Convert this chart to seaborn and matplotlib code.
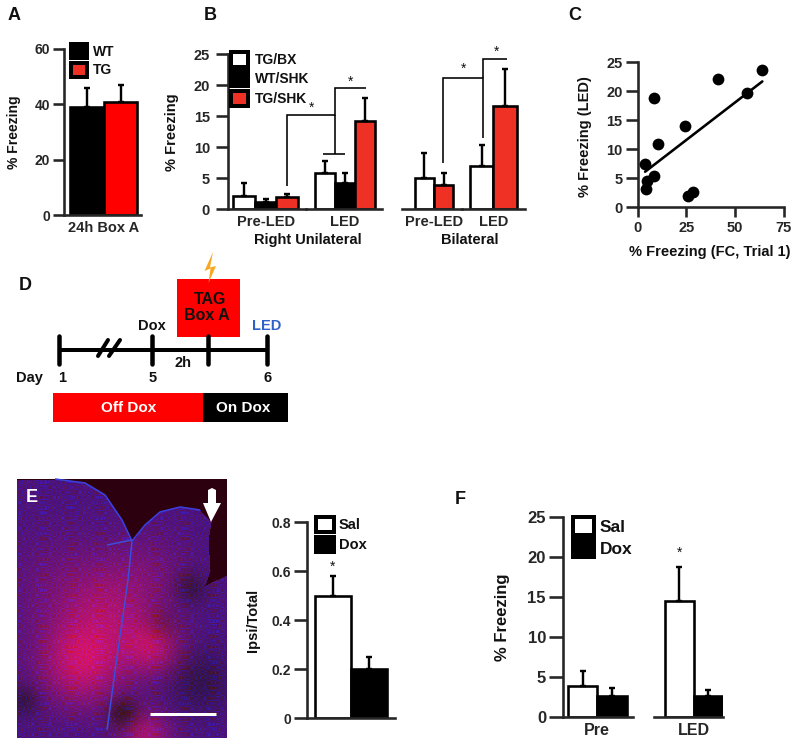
import numpy as np
import pandas as pd
import seaborn as sns
import matplotlib
matplotlib.use("Agg")
import matplotlib.pyplot as plt
from matplotlib.patches import Patch, Rectangle, Polygon
from matplotlib.path import Path

# ---------- data ----------
a_groups = ["WT", "TG"]
a_values = [39, 41]
a_tops = [45.8, 47]

b_groups = ["TG/BX", "WT/SHK", "TG/SHK"]
b_pre_values = [2.2, 1.1, 1.9]
b_pre_tops = [4.2, 1.7, 2.5]
b_led_values = [5.9, 4.3, 14.2]
b_led_tops = [7.7, 5.8, 17.9]

bi_groups = ["TG/BX", "TG/SHK"]
bi_pre_values = [5.1, 3.9]
bi_pre_tops = [9.1, 5.8]
bi_led_values = [7.0, 16.7]
bi_led_tops = [10.3, 22.6]

c_fc = [63.9, 41.3, 56.0, 8.4, 24.3, 10.25, 3.8, 8.4, 4.8, 4.1, 28.5, 26.0]
c_led = [23.6, 22.0, 19.6, 18.75, 14.05, 10.9, 7.5, 5.3, 4.5, 3.15, 2.7, 1.95]

e_groups = ["Sal", "Dox"]
e_values = [0.5, 0.2]
e_tops = [0.58, 0.25]

f_pre_values = [3.9, 2.6]
f_pre_tops = [5.7, 3.6]
f_led_values = [14.5, 2.6]
f_led_tops = [18.7, 3.4]

RED = "#ee3124"
PURE = "#ff0000"
INK = "#111111"
PX = 0.72  # points per pixel at dpi 100
W, H = 800, 746

sns.set_theme(style="ticks")
plt.rcParams["font.family"] = ["Liberation Sans", "DejaVu Sans"]
plt.rcParams["font.weight"] = "bold"
plt.rcParams["axes.labelweight"] = "bold"
plt.rcParams["text.color"] = INK
plt.rcParams["axes.labelcolor"] = INK

fig = plt.figure(figsize=(W / 100, H / 100), dpi=100, facecolor="white")
ov = fig.add_axes([0, 0, 1, 1], zorder=20)
ov.set_xlim(0, W)
ov.set_ylim(H, 0)
ov.axis("off")
ov.patch.set_alpha(0)


def add_ax(x0, x1, ytop, ybot):
    ax = fig.add_axes([x0 / W, 1 - ybot / H, (x1 - x0) / W, (ybot - ytop) / H])
    ax.patch.set_alpha(0)
    return ax


def style_ax(ax, ymax, yticks=None, ticklabels=None, fs=9.5, tick_px=10, pad_px=4):
    ax.set_ylim(0, ymax)
    for s in ("top", "right"):
        ax.spines[s].set_visible(False)
    ax.spines["bottom"].set_linewidth(2.6 * PX)
    ax.spines["left"].set_linewidth(2.6 * PX)
    if yticks is None:
        ax.spines["left"].set_visible(False)
        ax.set_yticks([])
    else:
        ax.set_yticks(yticks)
        ax.set_yticklabels(ticklabels or [str(t) for t in yticks], fontsize=fs, fontweight="bold")
        ax.tick_params(axis="y", length=tick_px * PX, width=2.6 * PX, pad=pad_px * PX)


def bar_group(x0, x1, ytop, ybot, ymax, names, values, tops, colors, c0, step,
              label=None, label_fs=10.5, **kw):
    ax = add_ax(x0, x1, ytop, ybot)
    df = pd.DataFrame({"group": names, "value": values})
    sns.barplot(data=df, x="group", y="value", hue="group", palette=colors, dodge=False,
                legend=False, width=1.0, edgecolor="black", linewidth=2.6 * PX, ax=ax,
                errorbar=None, saturation=1)
    n = len(values)
    vals = np.array(values, float)
    ax.errorbar(range(n), vals, yerr=[np.zeros(n), np.array(tops) - vals], fmt="none",
                ecolor="black", elinewidth=2.4 * PX, capsize=2.6 * PX,
                capthick=2.4 * PX, zorder=1, clip_on=False)
    ax.set_xlim((x0 - c0) / step, (x1 - c0) / step)
    ax.set_xlabel("")
    ax.set_ylabel("")
    style_ax(ax, ymax, **kw)
    if label:
        ax.set_xticks([(n - 1) / 2])
        ax.set_xticklabels([label], fontsize=label_fs, fontweight="bold")
    else:
        ax.set_xticks([])
    ax.tick_params(axis="x", length=0, pad=6 * PX)
    return ax


def ylabel(ax, text, x, y, fs):
    ax.set_ylabel(text, fontsize=fs, fontweight="bold", va="center", ha="center")
    ax.yaxis.set_label_coords(x, y, transform=ov.transData)


def legend(x, y, names, colors, fs, size, gap, pad):
    hs = [Patch(facecolor=c, edgecolor="black", linewidth=4 * PX, joinstyle="round") for c in colors]
    leg = ov.legend(hs, names, loc="upper left", bbox_to_anchor=(x, y),
                    bbox_transform=ov.transData, frameon=False,
                    borderpad=0, borderaxespad=0, handlelength=size, handleheight=size,
                    labelspacing=gap, handletextpad=pad, prop={"weight": "bold", "size": fs})
    ov.legend_ = None
    ov.add_artist(leg)


def txt(x, y, s, fs=10, color=INK, ha="center", weight="bold"):
    ov.text(x, y, s, fontsize=fs, color=color, ha=ha, va="center", fontweight=weight)


def line(xs, ys, lw=1.6, color="black", cap="butt"):
    ov.plot(xs, ys, color=color, lw=lw * PX, solid_capstyle=cap, solid_joinstyle="miter")


# ---------- panel A ----------
ax = bar_group(64, 141, 49, 215, 60, a_groups, a_values, a_tops, ["black", PURE], 87, 33.5,
               label="24h Box A", yticks=[0, 20, 40, 60], fs=10, tick_px=11, pad_px=3)
ylabel(ax, "% Freezing", 14, 132, 10)
legend(71, 44, a_groups, ["black", RED], 10, 1.15, 0.3, 0.4)
txt(14, 15, "A", 13)

# ---------- panel B ----------
ax = bar_group(228, 306, 54, 209.3, 25, b_groups, b_pre_values, b_pre_tops,
               ["white", "black", RED], 244, 21.6, label="Pre-LED",
               yticks=[0, 5, 10, 15, 20, 25], fs=10.5, tick_px=12, pad_px=6)
ylabel(ax, "% Freezing", 172, 132, 10.5)
bar_group(306, 382, 54, 209.3, 25, b_groups, b_led_values, b_led_tops,
          ["white", "black", RED], 325, 20, label="LED")
legend(231, 52, b_groups, ["white", "black", RED], 10, 1.25, 0.32, 0.45)
txt(308, 240, "Right Unilateral", 10.5)
txt(210, 16, "B", 13)
# significance brackets
line([287, 287, 334.5, 334.5, 366], [186, 115, 115, 88, 88])
line([334.5, 334.5], [115, 154])
line([323, 345], [154, 154])
txt(311.5, 108, "*", 10, weight="normal")
txt(351, 82, "*", 10, weight="normal")

bar_group(402, 462, 54, 209.3, 25, bi_groups, bi_pre_values, bi_pre_tops,
          ["white", RED], 424.5, 19.3, label="Pre-LED")
bar_group(462, 525, 54, 209.3, 25, bi_groups, bi_led_values, bi_led_tops,
          ["white", RED], 481.5, 23.5, label="LED")
txt(470, 240, "Bilateral", 10.5)
line([442.7, 442.7, 483.3, 483.3], [163, 78.3, 78.3, 138])
line([483.3, 483.3, 506.7], [78.3, 59.3, 59.3])
txt(464, 69, "*", 10, weight="normal")
txt(496.7, 51.5, "*", 10, weight="normal")

# ---------- panel C ----------
ax = add_ax(637.7, 784, 62, 207.3)
sns.regplot(x=c_fc, y=c_led, ax=ax, ci=None, truncate=True, color="black",
            scatter_kws={"s": 72, "alpha": 1, "clip_on": False, "zorder": 3, "linewidths": 0},
            line_kws={"lw": 2.6 * PX})
ax.set_xlim(0, 75)
style_ax(ax, 25, yticks=[0, 5, 10, 15, 20, 25], fs=10.5, tick_px=12, pad_px=3)
ax.set_xticks([0, 25, 50, 75])
ax.set_xticklabels(["0", "25", "50", "75"], fontsize=10.5, fontweight="bold")
ax.tick_params(axis="x", length=10 * PX, width=2.6 * PX, pad=4 * PX)
ylabel(ax, "% Freezing (LED)", 585, 137, 10.5)
ax.set_xlabel("")
txt(710, 252, "% Freezing (FC, Trial 1)", 10.5)
txt(575, 15, "C", 13)

# ---------- panel D ----------
txt(25, 285, "D", 13)
ov.add_patch(Rectangle((177, 279), 63, 58, facecolor=PURE, edgecolor="none"))
line([59, 267], [349.5, 349.5], lw=4)
for tx in (59, 152, 208, 267):
    line([tx, tx], [336, 364], lw=4.5, cap="round")
line([98, 108], [356, 340], lw=4, cap="round")
line([109, 120], [356, 340], lw=4, cap="round")
ov.add_patch(Polygon([(213, 252), (204.5, 271), (210.5, 268.5), (208.5, 283),
                      (216, 266), (210, 267.5)], facecolor="#f7a823", edgecolor="none"))
txt(210, 299, "TAG", 11.5)
txt(207, 315, "Box A", 11.5)
txt(152, 326, "Dox", 10.5)
txt(267, 326, "LED", 10.5, color="#2f62c9")
txt(183, 363, "2h", 10.5)
txt(29, 378, "Day", 10.5)
txt(62, 378, "1", 10.5)
txt(153, 378, "5", 10.5)
txt(268, 378, "6", 10.5)
ov.add_patch(Rectangle((53, 393), 150, 29, facecolor=PURE, edgecolor="none"))
ov.add_patch(Rectangle((203, 393), 85, 29, facecolor="black", edgecolor="none"))
txt(129, 407.5, "Off Dox", 11, color="white")
txt(243, 407.5, "On Dox", 11, color="white")

# ---------- panel E: micrograph ----------
imx = add_ax(17, 227, 479, 738)
yy, xx = np.mgrid[479:738:1.0, 17:227:1.0]
blobs = [(82, 663, 30, 115), (152, 647, 20, 90), (145, 735, 18, 85), (112, 610, 32, 60),
         (65, 590, 40, 35), (150, 570, 30, 30)]
darks = [(190, 587, 12, 45), (123, 713, 11, 70), (200, 680, 22, 40), (24, 700, 11, 45),
         (160, 625, 11, 30)]
glow = np.zeros_like(xx)
shade = np.zeros_like(xx)
for bx, by, sig, amp in blobs:
    glow += amp * np.exp(-((xx - bx) ** 2 + (yy - by) ** 2) / (2 * sig ** 2))
for bx, by, sig, amp in darks:
    shade += amp * np.exp(-((xx - bx) ** 2 + (yy - by) ** 2) / (2 * sig ** 2))
grain = np.sin(xx * xx * 0.73 + yy * 2.9) * np.sin(yy * yy * 0.61 + xx * 3.3)
red = 75 + glow - 0.6 * shade - 12 * grain
green = 18 + 10 * np.clip(grain, 0, 1)
blue = 125 - 0.12 * glow - 1.1 * shade + 55 * grain
outline = [(17, 479), (55, 479), (85, 483), (105, 495), (122, 520), (132, 541), (145, 525),
           (160, 512), (180, 507), (200, 510), (211, 522), (208, 540), (210, 570), (205, 585),
           (227, 575), (227, 738), (17, 738)]
inside = Path(outline).contains_points(np.c_[xx.ravel(), yy.ravel()]).reshape(xx.shape)
rgb = np.stack([red, green, blue], axis=-1)
rgb[~inside] = (45, 0, 16)
imx.imshow(np.clip(rgb, 0, 255).astype(np.uint8), aspect="auto", interpolation="bilinear")
imx.axis("off")
line([55, 85, 105, 122, 132, 145, 160, 180, 200], [479, 483, 495, 520, 541, 525, 512, 507, 510],
     lw=1.6, color="#3b3fe0")
line([132, 128, 118, 107], [541, 580, 650, 730], lw=1.5, color="#3b4fd8")
line([107, 132], [545, 540], lw=1.5, color="#3b4fd8")
line([150, 216], [714, 714], lw=3, color="white")
ov.add_patch(Polygon([(208, 490), (212, 488), (216, 490), (216, 503), (221, 503), (211, 522),
                      (203, 503), (208, 503)], facecolor="white", edgecolor="none"))
txt(32, 497, "E", 13, color="white")

# ---------- panel E bars ----------
ax = bar_group(307, 395, 522, 718.3, 0.8, e_groups, e_values, e_tops, ["white", "black"],
               332.5, 36, yticks=[0, 0.2, 0.4, 0.6, 0.8],
               ticklabels=["0", "0.2", "0.4", "0.6", "0.8"], fs=10, tick_px=13, pad_px=3)
ylabel(ax, "Ipsi/Total", 253, 620, 10.5)
legend(316, 517, e_groups, ["white", "black"], 10.5, 1.2, 0.3, 0.35)
txt(332.5, 567, "*", 10, weight="normal")

# ---------- panel F ----------
ax = bar_group(563, 633, 516.7, 716.7, 25, e_groups, f_pre_values, f_pre_tops,
               ["white", "black"], 582.5, 29.5, label="Pre", label_fs=11.5,
               yticks=[0, 5, 10, 15, 20, 25], fs=12, tick_px=14, pad_px=3)
ylabel(ax, "% Freezing", 502, 617, 12)
bar_group(654, 723, 516.7, 716.7, 25, e_groups, f_led_values, f_led_tops,
          ["white", "black"], 679, 29, label="LED", label_fs=11.5)
legend(573, 517, e_groups, ["white", "black"], 12.5, 1.2, 0.25, 0.35)
txt(679.5, 553, "*", 10, weight="normal")
txt(460, 499, "F", 13)

fig.savefig("out.png", dpi=100)
